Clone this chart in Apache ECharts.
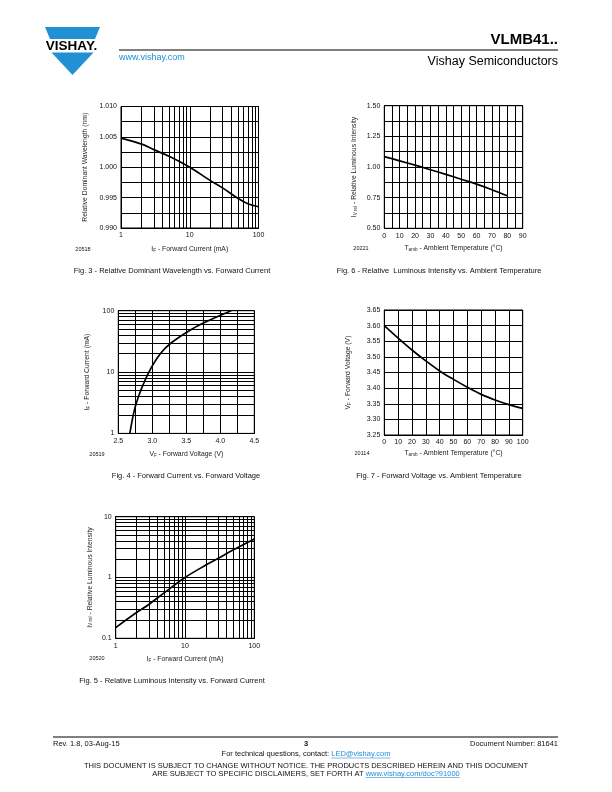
<!DOCTYPE html>
<html><head><meta charset="utf-8">
<script src="https://cdn.jsdelivr.net/npm/echarts@6/dist/echarts.min.js"></script>
<style>html,body{margin:0;padding:0;background:#fff}#c{width:612px;height:792px}</style>
</head><body><div id="c"></div>
<script>
// ---------- DATA ----------
// Fig. 3 - Relative Dominant Wavelength vs. Forward Current
const fig3Current = [1, 2, 3, 5, 10, 20, 30, 50, 70, 100];
const fig3Wavelength = [1.0048, 1.0038, 1.0029, 1.0018, 1.0000, 0.9978, 0.9966, 0.9949, 0.9940, 0.9935];
// Fig. 6 - Relative Luminous Intensity vs. Ambient Temperature
const fig6Temp = [0, 10, 20, 30, 40, 50, 60, 70, 80];
const fig6Intensity = [1.085, 1.05, 1.015, 0.978, 0.94, 0.90, 0.86, 0.815, 0.765];
// Fig. 4 - Forward Current vs. Forward Voltage
const fig4Voltage = [2.67, 2.72, 2.76, 2.83, 2.95, 3.12, 3.28, 3.58, 3.84, 4.16];
const fig4Current = [1, 2, 3, 5, 10, 20, 30, 50, 70, 100];
// Fig. 7 - Forward Voltage vs. Ambient Temperature
const fig7Temp = [0, 10, 20, 30, 40, 50, 60, 70, 80, 90, 100];
const fig7Voltage = [3.600, 3.560, 3.522, 3.487, 3.455, 3.428, 3.403, 3.380, 3.362, 3.347, 3.335];
// Fig. 5 - Relative Luminous Intensity vs. Forward Current
const fig5Current = [1, 2, 3, 5, 10, 20, 30, 50, 100];
const fig5Intensity = [0.15, 0.265, 0.36, 0.56, 1.0, 1.6, 2.06, 2.85, 4.3];

// log grid minor lines
const logMinor1to100 = [2, 3, 4, 5, 6, 7, 8, 9, 20, 30, 40, 50, 60, 70, 80, 90];
const logMinor01to10 = [0.2, 0.3, 0.4, 0.5, 0.6, 0.7, 0.8, 0.9, 2, 3, 4, 5, 6, 7, 8, 9];

// tick label formats
const fig3YLabels = v => v.toFixed(3);
const fig6YLabels = v => v.toFixed(2);
const fig4XLabels = v => v.toFixed(1);
const fig7YLabels = v => v.toFixed(2);

// ---------- CHART ----------
const FONT = '"Liberation Sans", Arial, Helvetica, sans-serif';
const BLUE = '#2290d4';
const chart = echarts.init(document.getElementById('c'), null, {renderer: 'canvas'});

const zip = (a, b) => a.map((v, i) => [v, b[i]]);
const richName = {
  n: {fontSize: 6.8, fontFamily: FONT, color: '#222'},
  s: {fontSize: 4.6, fontFamily: FONT, color: '#222', verticalAlign: 'bottom', padding: [3, 0, 0, 0]}
};
function axisBase(extra) {
  return Object.assign({
    axisLine: {show: true, lineStyle: {color: '#000', width: 1}},
    axisTick: {show: false},
    axisLabel: {fontSize: 7, fontFamily: FONT, color: '#111', margin: 4},
    splitLine: {show: true, lineStyle: {color: '#000', width: 1}},
    nameLocation: 'middle',
    nameTextStyle: {fontSize: 6.8, fontFamily: FONT, color: '#222', rich: richName}
  }, extra);
}
const minorLine = {color: '#000', width: 1, type: 'solid'};
function curve(xi, data) {
  return {
    type: 'line', xAxisIndex: xi, yAxisIndex: xi, data: data,
    showSymbol: false, smooth: 0.35, silent: true,
    lineStyle: {color: '#000', width: 1.7}, z: 5
  };
}
function gridLines(xi, coordsList) {
  return {
    type: 'lines', coordinateSystem: 'cartesian2d', xAxisIndex: xi, yAxisIndex: xi,
    silent: true, z: 1, polyline: false,
    lineStyle: {color: '#000', width: 1, opacity: 1, curveness: 0},
    data: coordsList.map(c => ({coords: c}))
  };
}
const vLines = (vals, y0, y1) => vals.map(v => [[v, y0], [v, y1]]);
const hLines = (vals, x0, x1) => vals.map(v => [[x0, v], [x1, v]]);

const option = {
  animation: false,
  grid: [
    {left: 121, top: 106.5, width: 137.5, height: 121.5},
    {left: 384.3, top: 105.7, width: 138.4, height: 122.6},
    {left: 118.3, top: 310.7, width: 136, height: 122.7},
    {left: 384.3, top: 310, width: 138.4, height: 125},
    {left: 115.7, top: 516.7, width: 138.6, height: 121.6}
  ].map(g => Object.assign(g, {show: true, borderColor: '#000', borderWidth: 1, containLabel: false})),
  xAxis: [
    axisBase({gridIndex: 0, type: 'log', logBase: 10, min: 1, max: 100,
      name: '{n|I}{s|F}{n| - Forward Current (mA)}', nameGap: 17}),
    axisBase({gridIndex: 1, type: 'value', min: 0, max: 90, interval: 10,
      minorTick: {show: false, splitNumber: 2}, minorSplitLine: {show: true, lineStyle: minorLine},
      name: '{n|T}{s|amb}{n| - Ambient Temperature (°C)}', nameGap: 16}),
    axisBase({gridIndex: 2, type: 'value', min: 2.5, max: 4.5, interval: 0.5,
      minorTick: {show: false, splitNumber: 2}, minorSplitLine: {show: true, lineStyle: minorLine},
      axisLabel: {fontSize: 7, fontFamily: FONT, color: '#111', margin: 4, formatter: fig4XLabels},
      name: '{n|V}{s|F}{n| - Forward Voltage (V)}', nameGap: 17}),
    axisBase({gridIndex: 3, type: 'value', min: 0, max: 100, interval: 10,
      name: '{n|T}{s|amb}{n| - Ambient Temperature (°C)}', nameGap: 14.5}),
    axisBase({gridIndex: 4, type: 'log', logBase: 10, min: 1, max: 100,
      name: '{n|I}{s|F}{n| - Forward Current (mA)}', nameGap: 17})
  ],
  yAxis: [
    axisBase({gridIndex: 0, type: 'value', min: 0.990, max: 1.010, interval: 0.005,
      minorTick: {show: false, splitNumber: 2}, minorSplitLine: {show: true, lineStyle: minorLine},
      axisLabel: {fontSize: 7, fontFamily: FONT, color: '#111', margin: 4, formatter: fig3YLabels},
      name: 'Relative Dominant Wavelength (nm)', nameGap: 32.5, nameRotate: 90}),
    axisBase({gridIndex: 1, type: 'value', min: 0.5, max: 1.5, interval: 0.25,
      minorTick: {show: false, splitNumber: 2}, minorSplitLine: {show: true, lineStyle: minorLine},
      axisLabel: {fontSize: 7, fontFamily: FONT, color: '#111', margin: 4, formatter: fig6YLabels},
      name: '{n|I}{s|V rel}{n| - Relative Luminous Intensity}', nameGap: 26, nameRotate: 90}),
    axisBase({gridIndex: 2, type: 'log', logBase: 10, min: 1, max: 100,
      name: '{n|I}{s|F}{n| - Forward Current (mA)}', nameGap: 27, nameRotate: 90}),
    axisBase({gridIndex: 3, type: 'value', min: 3.25, max: 3.65, interval: 0.05,
      axisLabel: {fontSize: 7, fontFamily: FONT, color: '#111', margin: 4, formatter: fig7YLabels},
      name: '{n|V}{s|F}{n| - Forward Voltage (V)}', nameGap: 32, nameRotate: 90}),
    axisBase({gridIndex: 4, type: 'log', logBase: 10, min: 0.1, max: 10,
      axisLabel: {fontSize: 7, fontFamily: FONT, color: '#111', margin: 4, formatter: v => String(v)},
      name: '{n|I}{s|V rel}{n| - Relative Luminous Intensity}', nameGap: 22, nameRotate: 90})
  ],
  series: [
    gridLines(0, vLines(logMinor1to100, 0.990, 1.010)),
    gridLines(2, hLines(logMinor1to100, 2.5, 4.5)),
    gridLines(4, vLines(logMinor1to100, 0.1, 10).concat(hLines(logMinor01to10, 1, 100))),
    curve(0, zip(fig3Current, fig3Wavelength)),
    curve(1, zip(fig6Temp, fig6Intensity)),
    curve(2, zip(fig4Voltage, fig4Current)),
    curve(3, zip(fig7Temp, fig7Voltage)),
    curve(4, zip(fig5Current, fig5Intensity))
  ]
};

// ---------- TEXT / DECORATION ----------
function txt(text, x, y, size, align, opts) {
  return {type: 'text', x: x, y: y, silent: true, z: 10,
    style: Object.assign({text: text, font: (opts && opts.bold ? 'bold ' : '') + size + 'px ' + FONT,
      fill: (opts && opts.fill) || '#111', textAlign: align || 'left', textVerticalAlign: 'middle'}, opts && opts.style)};
}
const ctx = document.createElement('canvas').getContext('2d');
function measure(t, size) { ctx.font = size + 'px ' + FONT; return ctx.measureText(t).width; }

const graphic = [];
// logo
graphic.push({type: 'polygon', silent: true, shape: {points: [[45, 27], [100, 27], [95, 39], [50, 39]]}, style: {fill: BLUE}});
graphic.push({type: 'polygon', silent: true, shape: {points: [[51.5, 52.5], [93.5, 52.5], [72.5, 75]]}, style: {fill: BLUE}});
graphic.push(txt('VISHAY.', 71.5, 46, 13.5, 'center', {bold: true, fill: '#000'}));
// header
graphic.push(txt('VLMB41..', 558, 40, 15, 'right', {bold: true, fill: '#000'}));
graphic.push({type: 'line', silent: true, shape: {x1: 119, y1: 50, x2: 558, y2: 50}, style: {stroke: '#000', lineWidth: 1}});
graphic.push(txt('www.vishay.com', 119, 58, 9, 'left', {fill: BLUE}));
graphic.push(txt('Vishay Semiconductors', 558, 62, 12.5, 'right', {fill: '#000'}));

// figure ids
graphic.push(txt('20518', 83, 249, 5.5, 'center'));
graphic.push(txt('20221', 361, 248, 5.5, 'center'));
graphic.push(txt('20519', 97, 454, 5.5, 'center'));
graphic.push(txt('20114', 362, 453, 5.5, 'center'));
graphic.push(txt('20520', 97, 658, 5.5, 'center'));
// captions
graphic.push(txt('Fig. 3 - Relative Dominant Wavelength vs. Forward Current', 172, 271, 7.5, 'center'));
graphic.push(txt('Fig. 6 - Relative  Luminous Intensity vs. Ambient Temperature', 439, 271, 7.5, 'center'));
graphic.push(txt('Fig. 4 - Forward Current vs. Forward Voltage', 186, 476, 7.5, 'center'));
graphic.push(txt('Fig. 7 - Forward Voltage vs. Ambient Temperature', 439, 476, 7.5, 'center'));
graphic.push(txt('Fig. 5 - Relative Luminous Intensity vs. Forward Current', 172, 681, 7.5, 'center'));

// footer
graphic.push({type: 'line', silent: true, shape: {x1: 53, y1: 737, x2: 558, y2: 737}, style: {stroke: '#000', lineWidth: 1}});
graphic.push(txt('Rev. 1.8, 03-Aug-15', 53, 743.5, 7.5, 'left'));
graphic.push(txt('3', 306, 744, 7.5, 'center', {bold: true}));
graphic.push(txt('Document Number: 81641', 558, 743.5, 7.5, 'right'));
(function () {
  const a = 'For technical questions, contact: ', b = 'LED@vishay.com';
  const wa = measure(a, 7.5), wb = measure(b, 7.5);
  const x0 = 306 - (wa + wb) / 2;
  graphic.push(txt(a, x0, 754, 7.5, 'left'));
  graphic.push(txt(b, x0 + wa, 754, 7.5, 'left', {fill: BLUE}));
  graphic.push({type: 'line', silent: true, shape: {x1: x0 + wa, y1: 758, x2: x0 + wa + wb, y2: 758}, style: {stroke: BLUE, lineWidth: 0.6}});
  graphic.push(txt('THIS DOCUMENT IS SUBJECT TO CHANGE WITHOUT NOTICE. THE PRODUCTS DESCRIBED HEREIN AND THIS DOCUMENT', 306, 765.5, 7.5, 'center'));
  const c = 'ARE SUBJECT TO SPECIFIC DISCLAIMERS, SET FORTH AT ', d = 'www.vishay.com/doc?91000';
  const wc = measure(c, 7.5), wd = measure(d, 7.5);
  const x1 = 306 - (wc + wd) / 2;
  graphic.push(txt(c, x1, 773.5, 7.5, 'left'));
  graphic.push(txt(d, x1 + wc, 773.5, 7.5, 'left', {fill: BLUE}));
  graphic.push({type: 'line', silent: true, shape: {x1: x1 + wc, y1: 777.5, x2: x1 + wc + wd, y2: 777.5}, style: {stroke: BLUE, lineWidth: 0.6}});
})();

option.graphic = graphic;
chart.setOption(option);
</script>
</body></html>
